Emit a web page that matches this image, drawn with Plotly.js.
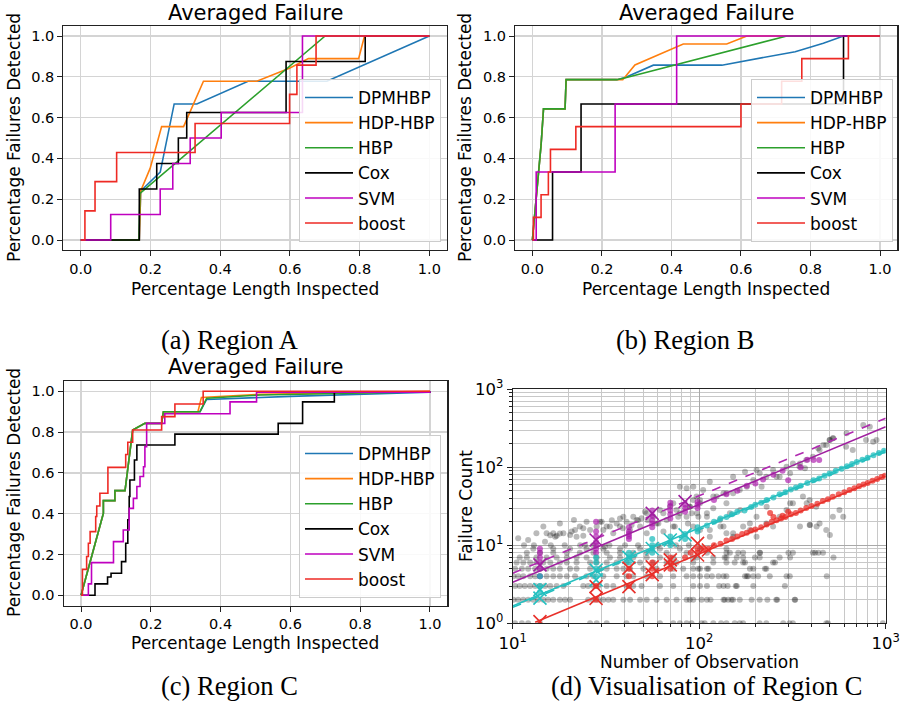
<!DOCTYPE html>
<html><head><meta charset="utf-8">
<script src="https://cdn.plot.ly/plotly-3.0.1.min.js"></script>
<style>html,body{margin:0;padding:0;background:#fff;}#chart{width:908px;height:710px;}</style>
</head><body><div id="chart"></div>
<script>
const methods = ['DPMHBP','HDP-HBP','HBP','Cox','SVM','boost'];
const methodColors = ['#1f77b4','#ff7f0e','#2ca02c','#000000','#bf00bf','#ee2a24'];
const methodShapes = ['linear','linear','linear','hv','hv','hv'];

// Region A
const aDpmX = [0,0.168,0.172,0.228,0.268,0.333,0.48,0.706,1];
const aDpmY = [0,0,0.24,0.333,0.667,0.667,0.778,0.778,1];
const aHdpX = [0,0.168,0.172,0.199,0.232,0.295,0.352,0.505,0.6,0.653,0.797,0.814,1];
const aHdpY = [0,0,0.24,0.351,0.556,0.556,0.778,0.778,0.843,0.889,0.889,1,1];
const aHbpX = [0,0.167,0.17,0.701,1];
const aHbpY = [0,0,0.229,1,1];
const aCoxX = [0,0.168,0.218,0.28,0.304,0.589,0.816,1];
const aCoxY = [0,0.25,0.375,0.5,0.625,0.875,1,1];
const aSvmX = [0,0.086,0.228,0.264,0.314,0.403,0.636,1];
const aSvmY = [0,0.125,0.25,0.375,0.5,0.625,1,1];
const aBoostX = [0,0.012,0.041,0.103,0.328,0.599,0.62,0.675,1];
const aBoostY = [0,0.143,0.286,0.429,0.571,0.714,0.857,1,1];

// Region B
const bDpmX = [0,0.025,0.032,0.094,0.097,0.243,0.267,0.348,0.545,0.756,0.837,0.895,1];
const bDpmY = [0,0.466,0.643,0.643,0.786,0.786,0.797,0.857,0.857,0.923,0.964,1,1];
const bHdpX = [0,0.025,0.032,0.094,0.097,0.26,0.295,0.434,0.559,0.617,1];
const bHdpY = [0,0.466,0.643,0.643,0.786,0.786,0.858,0.961,0.961,1,1];
const bHbpX = [0,0.025,0.032,0.094,0.097,0.243,0.271,0.732,1];
const bHbpY = [0,0.466,0.643,0.643,0.786,0.786,0.797,1,1];
const bCoxX = [0,0.058,0.14,0.895,1];
const bCoxY = [0,0.333,0.667,1,1];
const bSvmX = [0,0.011,0.238,0.415,1];
const bSvmY = [0,0.333,0.667,1,1];
const bBoostX = [0,0.003,0.025,0.046,0.052,0.125,0.6,0.717,0.775,0.909,1];
const bBoostY = [0,0.111,0.222,0.333,0.444,0.556,0.667,0.778,0.889,1,1];

// Region C
const cDpmX = [0,0.064,0.064,0.097,0.097,0.126,0.148,0.183,0.231,0.236,0.341,0.36,0.6,1];
const cDpmY = [0,0.402,0.464,0.464,0.513,0.513,0.81,0.843,0.843,0.9,0.9,0.96,0.975,0.995];
const cHdpX = [0,0.064,0.064,0.097,0.097,0.126,0.148,0.183,0.231,0.236,0.335,0.345,0.513,1];
const cHdpY = [0,0.402,0.464,0.464,0.513,0.513,0.81,0.843,0.843,0.9,0.9,0.97,0.985,1];
const cHbpX = [0,0.064,0.064,0.097,0.097,0.126,0.148,0.183,0.231,0.236,0.341,0.36,0.513,1];
const cHbpY = [0,0.402,0.464,0.464,0.513,0.513,0.81,0.843,0.843,0.9,0.9,0.966,0.982,0.998];
const cCoxX = [0,0.04,0.076,0.086,0.116,0.128,0.134,0.138,0.14,0.153,0.16,0.269,0.565,0.635,0.726,1];
const cCoxY = [0,0.056,0.09,0.108,0.165,0.255,0.37,0.484,0.565,0.663,0.737,0.79,0.843,0.948,0.995,1];
const cSvmX = [0,0.021,0.03,0.093,0.121,0.138,0.15,0.16,0.169,0.179,0.183,0.188,0.24,0.427,0.503,1];
const cSvmY = [0,0.056,0.16,0.263,0.32,0.426,0.475,0.533,0.582,0.63,0.729,0.843,0.89,0.948,0.995,1];
const cBoostX = [0,0.004,0.016,0.021,0.026,0.042,0.045,0.054,0.077,0.128,0.134,0.148,0.231,0.269,0.35,1];
const cBoostY = [0,0.127,0.19,0.255,0.312,0.386,0.438,0.5,0.627,0.69,0.75,0.81,0.876,0.938,1,1];

// Visualisation of Region C: grey observations, rows of integer failure counts
const grayRowCounts = [1,2,3,4,5,6,7,8,9,10];
const gray1X = [10.3,11.2,12.1,14,26,28.2,31.9,40.8,49.1,61.6,72.6,78.8,85.6,91,103,107,119,131,140,155,165,172,211,229,282,305,318,480,490,966];
const gray2X = [10.1,10.7,11.4,12.1,12.9,13.7,14.6,15.5,16.5,17.9,19.1,20.3,25.4,27.1,28.8,30.6,32.6,34.6,39.2,42.6,48.2,52.3,59.1,66.9,75.6,85.6,89,92.9,103,110,115,135,137,143,149,152,165,191,211,232,259,262,325,327];
const gray3X = [10.3,10.9,11.6,12.4,13.2,14,14.9,15.9,17.2,18.7,23.9,25.4,27.1,28.8,31.9,34.6,40.8,44.3,49.1,61.6,72.6,92.9,101,110,128,135,142,157,159,195,288];
const gray4X = [10.1,10.7,11.4,12.4,13.2,14,15.2,16.5,17.9,19.5,21.6,24.9,27.1,30.6,36.1,40.8,44.3,52.3,61.6,72.6,85.6,92.9,101,110,117,127,135,140,176,180,183,195,207,239,294,306,483];
const gray5X = [10.3,11.2,12.1,13.2,14,15.2,16.5,17.9,20.3,22,26,29.4,31.9,36.1,39.2,42.6,50.2,59.1,72.6,82.1,92.9,99,101,110,112,187,195,225,229];
const gray6X = [10.5,11.4,12.4,13.4,14.6,15.9,17.9,19.5,22,26,28.2,31.9,36.1,40.8,48.2,56.8,66.9,75.6,92.9,119,140,155,172,176,249,255];
const gray7X = [10.9,11.9,13.4,15.2,17.2,19.5,22,24.9,28.2,33.2,37.6,44.3,52.3,61.6,72.6,92.9,97,119,137,140,159,172,199,211,270,307,525];
const gray8X = [11.9,14,16.5,19.5,22.9,27.1,31.9,37.6,44.3,52.3,66.9,85.6,110,140,146,162,172,211,212,301,318,418,436];
const gray9X = [12.9,16.5,20.3,24.9,30.6,37.6,48.2,61.6,78.8,101,140];
const gray10X = [11.5,13,16,19,23,27,33,40,47,60,75,88];
const grayCloudX = [10.7,12.1,13.4,15.2,16.5,17.2,18.7,20.3,22,23.9,26,28.2,29.4,31.9,33.2,36.1,39.2,40.8,44.3,46.2,49.1,52.3,56.8,61.6,64.2,69.7,72.6,75.6,78.8,85.6,92.9,96.8,101,110,119,124,135,140,152,165,180,195,211,229,249,270,294,318,345,375,407,442,480,500,521,613,666,785,856,
  92.9,101,114,130,140,152,172,187,203,229,249,270,294,318,360,391,424,442,480,521,565,391,407,461,
  14.6,17.9,21.3,22.9,24.9,30.6,34.6,37.6,42.6,48.2,52.3,59.1,66.9,72.6,78.8,85.6,89.2,
  93,105,114,152,176,203,216,260,307,347,369,435,463,502,523,617,758,822,893,97,110,129,146,166,203,230,307,377,114,135,152,187,347,393,426,502,592,89,101,119,140,
  14.9,15.9,16.9,17.9,20.7,21.6,23.9,30,34,37.6,39,43.4,47,51.2,53,60.4,64.3,74,77.2,87,91,99,24.4,31.2];
const grayCloudY = [12.3,11.7,14.3,14.3,14.3,13.3,14.3,13.6,12.9,13.3,15.7,17.4,20.1,17.4,17.4,19.1,23.3,20.1,23.3,21.1,22.2,25.7,23.3,28.4,25.7,31.3,34.5,28.4,56.5,53.8,38.1,42.1,34.5,25.7,29.8,42.1,46.4,34.5,46.4,51.2,56.5,68.8,83.8,75.9,92.4,75.9,102,112,102,124,137,167,193,224,235,184,167,224,213,
  17.4,15.7,12.9,17.4,14.3,12.9,17.4,15.7,12.9,19.1,17.4,23.3,28.4,34.5,42.1,38.1,31.3,19.1,15.7,23.3,28.4,18.2,8.05,8.05,
  17.4,19.1,21.1,17.4,20.1,15.7,14.3,17.4,15.7,17.4,14.3,19.1,21.1,17.4,25.7,23.3,31.3,
  56.5,51.2,65.5,75.9,88,92.4,56.5,75.9,83.8,112,97,175,193,224,235,273,349,332,224,25.7,23.3,21.1,25.7,28.4,23.3,31.3,34.5,34.5,15.7,17.4,14.3,19.1,17.4,18.2,17.4,13.6,23.3,31.3,38.1,42.1,46.4,
  11.1,13.5,12.9,14.2,15,15.7,16.5,20.1,21,22,16.5,18.2,21,27,21,19.1,15,17.4,23.3,19.1,25.7,23.3,10.1,9.6];

const purpleDotX = [14,14,14,14,14,14,28,28,28,28,28,28,28,42,42,42,42,42,56,56,56,56,56,70,70,70,70,70,84,84,84,98,98,98,120,140,160,180,200,220,250,280,300,350,380,410,440];
const purpleDotY = [4,5,6,7,8,9,8,9,10,11,13,15,20,12,13,14,15,17,17,19,21,24,28,22,25,28,32,35,27,30,33,30,33,36,38,45,50,58,62,70,80,90,68,100,125,124,124];
const cyanDotX = [14,14,14,28,28,28,28,42,42,42,56,56,56,56,70,70,70,84,84,98,98,110,120,130,140,150,160,175,190,200,215,230,250,270,290,310,330,350,380,410,440,470,500,540,580,620,660,700,750,800,860,920,980];
const cyanDotY = [2.5,3,4,4,5,6,7,6,7,8,8,9,10,12,10,11,13,12,14,15,17,18,20,22,23,25,27,28,31,33,35,38,41,45,48,52,55,58,63,68,72,78,83,90,96,103,110,117,125,133,143,153,163];
const redDotX = [28,28,42,42,42,56,56,56,70,70,70,84,90,98,98,105,112,120,130,140,150,160,170,180,190,200,215,230,245,260,275,290,310,330,350,375,400,430,460,490,520,560,600,640,680,720,760,800,850,900,950,990,240,250,280,300];
const redDotY = [2,3,3,4,5,4,5,6,5,6,7,7,8,8,9,9,9,10,10.5,11.5,12,13,14,14.5,15.5,16,17,18.5,20,21,22,23,25,26,28,30,32,34,37,39,42,45,48,51,54,57,60,63,67,71,75,78,26,23,24,27];

const purpleCrossX = [14,28,56,84];
const purpleCrossY = [5.6,11.7,25.7,36.3];
const cyanCrossX = [14,14,28,28,42,56,70,84];
const cyanCrossY = [2.1,2.7,3.6,4.8,7.0,9.1,11.7,13.6];
const redCrossX = [14,28,28,42,42,56,56,70,70,98,98,112];
const redCrossY = [1.05,2.09,2.95,2.95,5.1,4.2,5.3,5.6,6.5,7.5,10.6,8.7];

const fitX = [10,1000];
const purpleDashY = [4.38,425];
const purpleFitY = [3.36,332];
const cyanFitY = [1.67,167];
const cyanDashY = [1.6,158];
const redFitX = [13.2,1000];
const redFitY = [1.03,77.4];

const FONT = 'DejaVu Sans, sans-serif';
const W = 908, H = 710;
const px = v => v / W;
const py = v => 1 - v / H;

const traces = [];
function addRegion(xs, ys, xa, ya, leg) {
  for (let i = 0; i < methods.length; i++) {
    traces.push({
      type: 'scatter', mode: 'lines', x: xs[i], y: ys[i], name: methods[i],
      xaxis: xa, yaxis: ya, legend: leg,
      line: {color: methodColors[i], width: 1.6, shape: methodShapes[i]},
      hoverinfo: 'skip'
    });
  }
}
addRegion([aDpmX,aHdpX,aHbpX,aCoxX,aSvmX,aBoostX],[aDpmY,aHdpY,aHbpY,aCoxY,aSvmY,aBoostY],'x','y','legend');
addRegion([bDpmX,bHdpX,bHbpX,bCoxX,bSvmX,bBoostX],[bDpmY,bHdpY,bHbpY,bCoxY,bSvmY,bBoostY],'x2','y2','legend2');
addRegion([cDpmX,cHdpX,cHbpX,cCoxX,cSvmX,cBoostX],[cDpmY,cHdpY,cHbpY,cCoxY,cSvmY,cBoostY],'x3','y3','legend3');

// panel d
const grayRows = [gray1X,gray2X,gray3X,gray4X,gray5X,gray6X,gray7X,gray8X,gray9X,gray10X];
let gx = [], gy = [];
grayRows.forEach((row, i) => { row.forEach(v => { gx.push(v); gy.push(grayRowCounts[i]); }); });
gx = gx.concat(grayCloudX); gy = gy.concat(grayCloudY);
function dots(x, y, color) {
  return {type:'scatter', mode:'markers', x, y, xaxis:'x4', yaxis:'y4', showlegend:false, hoverinfo:'skip',
    marker:{color, size:6, line:{width:0}}};
}
function crosses(x, y, color) {
  return {type:'scatter', mode:'markers', x, y, xaxis:'x4', yaxis:'y4', showlegend:false, hoverinfo:'skip',
    marker:{symbol:'x-thin', size:13, color, line:{color, width:1.6}}};
}
function fit(x, y, color, dash) {
  return {type:'scatter', mode:'lines', x, y, xaxis:'x4', yaxis:'y4', showlegend:false, hoverinfo:'skip',
    line:{color, width:1.6, dash}};
}
traces.push(dots(gx, gy, 'rgba(0,0,0,0.27)'));
traces.push(dots(purpleDotX, purpleDotY, 'rgba(170,20,170,0.65)'));
traces.push(dots(cyanDotX, cyanDotY, 'rgba(20,185,185,0.7)'));
traces.push(dots(redDotX, redDotY, 'rgba(235,35,30,0.7)'));
traces.push(fit(fitX, purpleDashY, '#b02ab0', 'dash'));
traces.push(fit(fitX, purpleFitY, '#a020a0', 'solid'));
traces.push(fit(fitX, cyanDashY, '#25bdbd', 'dash'));
traces.push(fit(fitX, cyanFitY, '#25c0c0', 'solid'));
traces.push(fit(redFitX, redFitY, '#e8302a', 'solid'));
traces.push(crosses(purpleCrossX, purpleCrossY, '#a020a0'));
traces.push(crosses(cyanCrossX, cyanCrossY, '#25c0c0'));
traces.push(crosses(redCrossX, redCrossY, '#e8302a'));

const tickFont = {family: FONT, size: 14.5, color: '#000'};
function linAxis(domain, anchor) {
  return {domain, anchor, range:[-0.05,1.05], tick0:0, dtick:0.2, tickformat:'.1f',
    showgrid:true, gridcolor:'#d4d4d4', gridwidth:1.3, zeroline:false,
    showline:true, linecolor:'#222', linewidth:1.1, mirror:true,
    ticks:'outside', ticklen:5, tickwidth:1, tickcolor:'#222', tickfont:tickFont};
}
function legendAt(xRight, yBottom) {
  return {x: px(xRight), y: py(yBottom), xanchor:'right', yanchor:'bottom',
    bgcolor:'rgba(255,255,255,0.85)', bordercolor:'#cccccc', borderwidth:1,
    font:{family: FONT, size: 17, color:'#000'}, itemwidth:48, tracegroupgap:0};
}
const minorX = [20,30,40,50,60,70,80,90,200,300,400,500,600,700,800,900];
const minorY = [2,3,4,5,6,7,8,9,20,30,40,50,60,70,80,90,200,300,400,500,600,700,800,900];
function logAxis(domain, anchor, range, vals, text, minor) {
  return {type:'log', domain, anchor, range, tickmode:'array', tickvals:vals, ticktext:text,
    showgrid:true, gridcolor:'#a9a9a9', gridwidth:1.2, zeroline:false,
    showline:true, linecolor:'#222', linewidth:1.1, mirror:true,
    ticks:'outside', ticklen:5, tickcolor:'#222', tickfont:{family:FONT, size:16.5, color:'#000'},
    minor:{tickmode:'array', tickvals:minor, showgrid:true, gridcolor:'#c8c8c8', gridwidth:1, ticks:'outside', ticklen:3, tickcolor:'#222'}};
}

const layout = {
  width: W, height: H, margin:{l:0,r:0,t:0,b:0}, paper_bgcolor:'#fff', plot_bgcolor:'#fff',
  showlegend: true,
  xaxis: linAxis([px(63.3), px(446.8)], 'y'),
  yaxis: linAxis([py(250.2), py(25.8)], 'x'),
  xaxis2: linAxis([px(515), px(897.4)], 'y2'),
  yaxis2: linAxis([py(250.2), py(25.8)], 'x2'),
  xaxis3: linAxis([px(63.6), px(447.4)], 'y3'),
  yaxis3: linAxis([py(605.5), py(381.1)], 'x3'),
  xaxis4: logAxis([px(512.7), px(885.7)], 'y4', [1,3], [10,100,1000], ['10<sup>1</sup>','10<sup>2</sup>','10<sup>3</sup>'], minorX),
  yaxis4: logAxis([py(623.3), py(389.3)], 'x4', [0,3], [1,10,100,1000], ['10<sup>0</sup>','10<sup>1</sup>','10<sup>2</sup>','10<sup>3</sup>'], minorY),
  legend: legendAt(441, 242),
  legend2: legendAt(893, 242),
  legend3: legendAt(441, 598),
  annotations: []
};
function note(text, x, y, size, angle, family) {
  layout.annotations.push({text, x: px(x), y: py(y), xref:'paper', yref:'paper', xanchor:'center', yanchor:'middle',
    showarrow:false, textangle: angle || 0, font:{family: family || FONT, size, color:'#000'}});
}
note('Averaged Failure', 255, 13, 21);
note('Averaged Failure', 706, 13, 21);
note('Averaged Failure', 255, 367, 21);
note('Percentage Length Inspected', 255, 289, 17);
note('Percentage Length Inspected', 706, 289, 17);
note('Percentage Length Inspected', 255, 643, 17);
note('Number of Observation', 699, 662, 17);
note('Percentage Failures Detected', 14, 138, 17, -90);
note('Percentage Failures Detected', 465, 138, 17, -90);
note('Percentage Failures Detected', 14, 493, 17, -90);
note('Failure Count', 466, 506, 17, -90);
const SERIF = 'Liberation Serif, serif';
note('(a) Region A', 229, 340, 26.5, 0, SERIF);
note('(b) Region B', 685, 340, 26.5, 0, SERIF);
note('(c) Region C', 229, 686, 26.5, 0, SERIF);
note('(d) Visualisation of Region C', 706, 686, 26.5, 0, SERIF);

Plotly.newPlot('chart', traces, layout, {staticPlot:true, displayModeBar:false});
</script></body></html>
